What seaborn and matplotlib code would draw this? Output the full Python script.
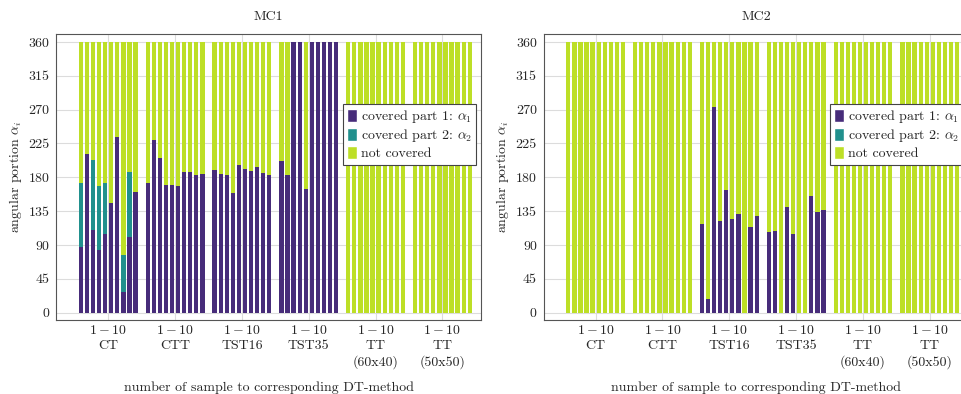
import matplotlib
matplotlib.use("Agg")
import matplotlib.pyplot as plt
from matplotlib.patches import Patch
import numpy as np
import pandas as pd
import seaborn as sns

# ---------------- data ----------------
methods = ["CT", "CTT", "TST16", "TST35", "TT\n(60x40)", "TT\n(50x50)"]
samples_per_method = 10
full_circle = 360

# MC1: covered part 1 (alpha_1), 10 samples per method
mc1_alpha1 = [87, 211, 110, 84, 104, 146, 233, 28, 101, 161,      # CT
              173, 230, 206, 170, 170, 168, 187, 187, 183, 185,   # CTT
              190, 185, 183, 159, 196, 191, 189, 194, 186, 183,   # TST16
              202, 183, 360, 360, 165, 360, 360, 360, 360, 360,   # TST35
              0, 0, 0, 0, 0, 0, 0, 0, 0, 0,                       # TT (60x40)
              0, 0, 0, 0, 0, 0, 0, 0, 0, 0]                       # TT (50x50)
# MC1: covered part 2 (alpha_2)
mc1_alpha2 = [86, 0, 93, 85, 69, 0, 0, 49, 86, 0,
              0, 0, 0, 0, 0, 0, 0, 0, 0, 0,
              0, 0, 0, 0, 0, 0, 0, 0, 0, 0,
              0, 0, 0, 0, 0, 0, 0, 0, 0, 0,
              0, 0, 0, 0, 0, 0, 0, 0, 0, 0,
              0, 0, 0, 0, 0, 0, 0, 0, 0, 0]

# MC2
mc2_alpha1 = [0, 0, 0, 0, 0, 0, 0, 0, 0, 0,
              0, 0, 0, 0, 0, 0, 0, 0, 0, 0,
              118, 18, 273, 122, 163, 125, 131, 0, 114, 129,
              107, 109, 0, 140, 104, 0, 0, 155, 134, 136,
              0, 0, 0, 0, 0, 0, 0, 0, 0, 0,
              0, 0, 0, 0, 0, 0, 0, 0, 0, 0]
mc2_alpha2 = [0] * 60

yticks = [0, 45, 90, 135, 180, 225, 270, 315, 360]
legend_labels = [r"covered part 1: $\alpha_1$", r"covered part 2: $\alpha_2$", "not covered"]

# ---------------- style ----------------
c_a1 = "#472c7a"
c_a2 = "#21908d"
c_nc = "#bddf26"

sns.set_style("white")
plt.rcParams["font.family"] = ["cmr10", "DejaVu Serif"]
plt.rcParams["mathtext.fontset"] = "cm"
plt.rcParams["axes.formatter.use_mathtext"] = True
plt.rcParams["font.size"] = 10


def make_frame(a1, a2):
    pos = []
    for g in range(len(methods)):
        for i in range(samples_per_method):
            pos.append(g * (samples_per_method + 1) + i + 1)
    a1 = np.array(a1, dtype=float)
    a2 = np.array(a2, dtype=float)
    return pd.DataFrame({"pos": pos, "a1": a1, "cov": a1 + a2,
                         "full": np.full(len(pos), full_circle, dtype=float)})


fig = plt.figure(figsize=(9.62, 3.94), dpi=100)
W, H = 962.0, 394.0
ax_w = 425 / W
ax_b = (H - 320) / H
ax_h = 286 / H
ax1 = fig.add_axes([56.3 / W, ax_b, ax_w, ax_h])
ax2 = fig.add_axes([543.7 / W, ax_b, ax_w, ax_h])

group_centers = [g * (samples_per_method + 1) + (samples_per_method + 1) / 2 for g in range(len(methods))]
tick_labels = [r"$1-10$" + "\n" + m for m in methods]

for ax, title, a1, a2 in [(ax1, "MC1", mc1_alpha1, mc1_alpha2), (ax2, "MC2", mc2_alpha1, mc2_alpha2)]:
    df = make_frame(a1, a2)
    for col, c in [("full", c_nc), ("cov", c_a2), ("a1", c_a1)]:
        sns.barplot(data=df, x="pos", y=col, native_scale=True, color=c, saturation=1,
                    width=0.7, errorbar=None, linewidth=0, ax=ax, zorder=2)
    ax.set_xlim(-3.05, 66.9)
    ax.set_ylim(-9.7, 370.6)
    ax.set_xticks(group_centers)
    ax.set_xticklabels(tick_labels, fontsize=10, linespacing=1.28)
    ax.set_yticks(yticks)
    ax.set_yticklabels([str(v) for v in yticks], fontsize=10)
    ax.set_axisbelow(True)
    ax.grid(True, color="#dcdcdc", linewidth=0.8, zorder=0)
    ax.tick_params(axis="both", direction="in", length=3, color="#888888", width=0.6)
    ax.tick_params(axis="x", pad=3)
    ax.tick_params(axis="y", pad=5)
    for s in ax.spines.values():
        s.set_color("#555555")
        s.set_linewidth(0.8)
    ax.set_title(title, fontsize=10, pad=10)
    ax.set_xlabel("number of sample to corresponding DT-method", fontsize=10, labelpad=9)
    ax.set_ylabel(r"angular portion $\alpha_i$", fontsize=10, labelpad=3)
    handles = [Patch(facecolor=c_a1), Patch(facecolor=c_a2), Patch(facecolor=c_nc)]
    leg = ax.legend(handles, legend_labels, loc="center right", bbox_to_anchor=(0.988, 0.649),
                    fontsize=10, frameon=True, fancybox=False, framealpha=1,
                    handlelength=0.7, handleheight=1.0, handletextpad=0.3,
                    labelspacing=0.15, borderpad=0.3, borderaxespad=0)
    leg.get_frame().set_edgecolor("#444444")
    leg.get_frame().set_linewidth(0.8)

fig.savefig("out.png", dpi=100)
